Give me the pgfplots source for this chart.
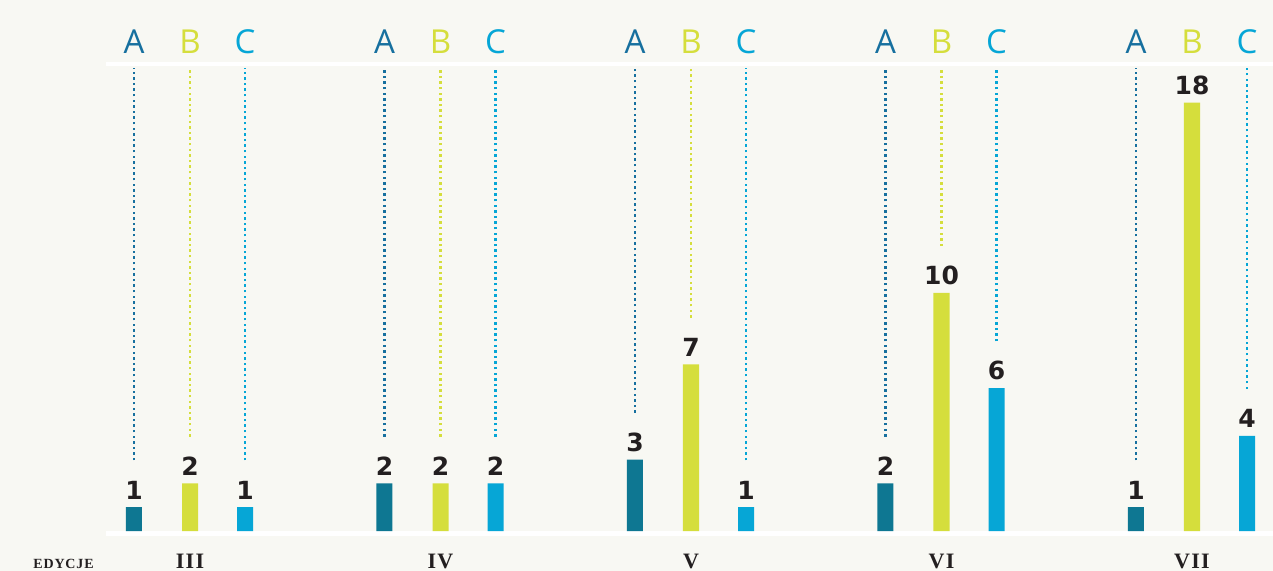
\documentclass[border=0pt]{standalone}
\usepackage{pgfplots}
\pgfplotsset{compat=1.18}
\usepackage{fontspec}
\setmainfont{DejaVu Sans}
\newfontfamily\abcfont{Open Sans}
\newfontfamily\edfont[LetterSpace=6]{Liberation Serif}
\newfontfamily\romfont[LetterSpace=6]{Liberation Serif}

\definecolor{bg}{HTML}{F8F8F3}
\definecolor{colA}{HTML}{0E7792}
\definecolor{colAt}{HTML}{17709F}
\definecolor{colB}{HTML}{D5DE3C}
\definecolor{colC}{HTML}{06A6D6}
\definecolor{ink}{HTML}{231F20}

\begin{document}
\begin{tikzpicture}
\begin{axis}[
    width=1273pt, height=571pt, scale only axis,
    xmin=-0.7585, xmax=4.3234, ymin=-1.68, ymax=22.31,
    axis lines=none, ticks=none,
    axis background/.style={fill=bg},
    /pgf/number format/assume math mode=true,
    every node near coord/.style={font=\bfseries\fontsize{25}{25}\selectfont,
        text=ink, anchor=south, inner sep=0pt, yshift=8pt},
    bars/.style={ybar, bar width=0.0639, bar shift=0pt, draw=none, nodes near coords},
    guide/.style={line width=2.6pt, dash pattern=on 2.4pt off 3.2pt,
        unbounded coords=jump, forget plot},
]
% white bands
\draw[white, line width=4pt] (axis cs:-0.335,19.62) -- (axis cs:4.4,19.62);
\draw[white, line width=5pt] (axis cs:-0.335,-0.09) -- (axis cs:4.4,-0.09);

% dotted guides (value + ~2 up to the top band)
\addplot[guide, colAt] coordinates {
  (-0.2236,2.97) (-0.2236,19.45) (-0.2236,nan)
  (0.7764,3.97) (0.7764,19.45) (0.7764,nan)
  (1.7764,4.97) (1.7764,19.45) (1.7764,nan)
  (2.7764,3.97) (2.7764,19.45) (2.7764,nan)
  (3.7764,2.97) (3.7764,19.45)};
\addplot[guide, colB] coordinates {
  (0,3.97) (0,19.45) (0,nan)
  (1,3.97) (1,19.45) (1,nan)
  (2,8.97) (2,19.45) (2,nan)
  (3,11.97) (3,19.45)};
\addplot[guide, colC] coordinates {
  (0.2196,2.97) (0.2196,19.45) (0.2196,nan)
  (1.2196,3.97) (1.2196,19.45) (1.2196,nan)
  (2.2196,2.97) (2.2196,19.45) (2.2196,nan)
  (3.2196,7.97) (3.2196,19.45) (3.2196,nan)
  (4.2196,5.97) (4.2196,19.45)};

% bars
\addplot[bars, fill=colA] coordinates {(-0.2236,1) (0.7764,2) (1.7764,3) (2.7764,2) (3.7764,1)};
\addplot[bars, fill=colB] coordinates {(0,2) (1,2) (2,7) (3,10) (4,18)};
\addplot[bars, fill=colC] coordinates {(0.2196,1) (1.2196,2) (2.2196,1) (3.2196,6) (4.2196,4)};

% column letters
\pgfplotsinvokeforeach{0,1,2,3,4}{
  \node[text=colAt, font=\abcfont\fontsize{33}{33}\selectfont] at (axis cs:#1,20.57) [xshift=-56pt] {A};
  \node[text=colB, font=\abcfont\fontsize{33}{33}\selectfont] at (axis cs:#1,20.57) {B};
  \node[text=colC, font=\abcfont\fontsize{33}{33}\selectfont] at (axis cs:#1,20.57) [xshift=55pt] {C};
}

% edition labels
\node[anchor=north, inner sep=0pt, text=ink, font=\romfont\bfseries\fontsize{22}{22}\selectfont] at (axis cs:0,-0.97) {III};
\node[anchor=north, inner sep=0pt, text=ink, font=\romfont\bfseries\fontsize{22}{22}\selectfont] at (axis cs:1,-0.97) {IV};
\node[anchor=north, inner sep=0pt, text=ink, font=\romfont\bfseries\fontsize{22}{22}\selectfont] at (axis cs:2,-0.97) {V};
\node[anchor=north, inner sep=0pt, text=ink, font=\romfont\bfseries\fontsize{22}{22}\selectfont] at (axis cs:3,-0.97) {VI};
\node[anchor=north, inner sep=0pt, text=ink, font=\romfont\bfseries\fontsize{22}{22}\selectfont] at (axis cs:4,-0.97) {VII};
\node[anchor=north, inner sep=0pt, text=ink, font=\edfont\bfseries\fontsize{14}{14}\selectfont] at (axis cs:-0.505,-1.17) {EDYCJE};
\end{axis}
\pgfresetboundingbox
\useasboundingbox (current axis.south west) rectangle (current axis.north east);
\end{tikzpicture}
\end{document}
